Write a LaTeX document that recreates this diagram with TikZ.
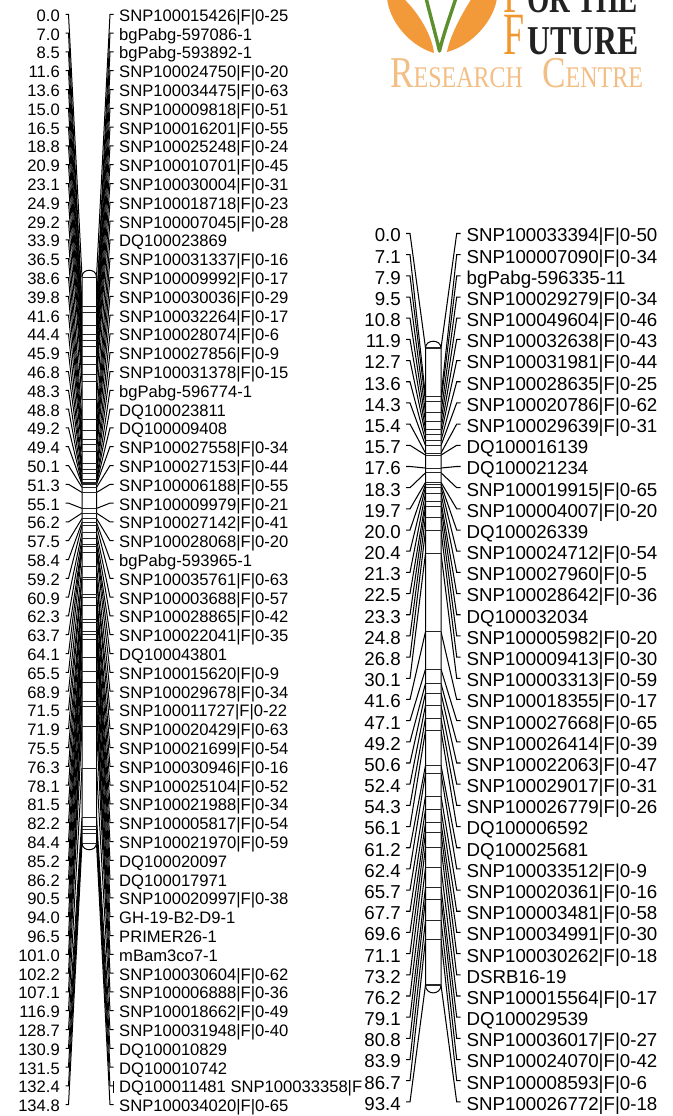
\documentclass[tikz,border=0pt]{standalone}
\usepackage{fontspec}
\usepackage{graphicx}
\setmainfont{Liberation Sans}
\newfontfamily\logoserif{Liberation Serif}
\definecolor{leaforange}{HTML}{F29A3A}
\definecolor{leafgreen}{HTML}{5E8F2E}
\definecolor{logoF}{HTML}{F0982F}
\definecolor{logolight}{HTML}{F2BE84}
\definecolor{logodark}{HTML}{222222}
\tikzset{
  conn/.style={line width=1pt,black,line join=miter},
  connB/.style={line width=1.05pt,black,line join=miter},
  markline/.style={line width=0.9pt,black!85},
  markB/.style={line width=1.05pt,black!85},
  chrom/.style={line width=1pt,black,fill=white},
  posA/.style={anchor=base east,inner sep=0pt,font=\fontsize{16.6}{18}\selectfont},
  nameA/.style={anchor=base west,inner sep=0pt,font=\fontsize{16.6}{18}\selectfont},
  posB/.style={anchor=base east,inner sep=0pt,font=\fontsize{18.7}{20}\selectfont},
  nameB/.style={anchor=base west,inner sep=0pt,font=\fontsize{18.7}{20}\selectfont},
  logotext/.style={anchor=base west,inner sep=0pt},
}
\newcommand{\bigF}{\textcolor{logoF}{\scalebox{.63}[1]{\fontseries{m}\fontsize{60}{60}\selectfont F}}\hspace{3pt}}
\begin{document}
\begin{tikzpicture}[x=1pt,y=-1pt]
\useasboundingbox (0,0) rectangle (672,1116);
% logo
\begin{scope}
\clip (0,0) rectangle (672,1116);
\fill[leaforange] (387,-2) .. controls (389,20) and (408,45) .. (434,53) .. controls (432,35) and (418,12) .. (403,-2) -- cycle;
\fill[leaforange] (497,-2) .. controls (494,20) and (473,45) .. (447,52) .. controls (450,35) and (463,12) .. (472,-2) -- cycle;
\draw[leafgreen,line width=3.4pt,line join=round] (426,-2) .. controls (431,18) and (436,36) .. (439.5,51) .. controls (443,36) and (450,16) .. (456,-2);
\node[logotext,text=logodark] (forthe) at (503,13) {\logoserif\bigF\bfseries\fontsize{41}{41}\selectfont\scalebox{.7}[1]{OR THE}};
\node[logotext,text=logodark] (future) at (503,55) {\logoserif\bigF\bfseries\fontsize{41}{41}\selectfont\scalebox{.775}[1]{UTURE}};
\node[logotext,text=logolight] (research) at (390,87) {\logoserif\scalebox{.8}[1]{\fontsize{44}{44}\selectfont R\fontsize{30}{30}\selectfont ESEARCH\hspace{24pt}\fontsize{44}{44}\selectfont C\fontsize{30}{30}\selectfont ENTRE}};
\end{scope}
% left map: connectors first
\foreach \p/\t [count=\i] in {
0.0/SNP100015426|F|0-25,7.0/bgPabg-597086-1,8.5/bgPabg-593892-1,11.6/SNP100024750|F|0-20,13.6/SNP100034475|F|0-63,15.0/SNP100009818|F|0-51,16.5/SNP100016201|F|0-55,18.8/SNP100025248|F|0-24,20.9/SNP100010701|F|0-45,23.1/SNP100030004|F|0-31,24.9/SNP100018718|F|0-23,29.2/SNP100007045|F|0-28,33.9/DQ100023869,36.5/SNP100031337|F|0-16,38.6/SNP100009992|F|0-17,39.8/SNP100030036|F|0-29,41.6/SNP100032264|F|0-17,44.4/SNP100028074|F|0-6,45.9/SNP100027856|F|0-9,46.8/SNP100031378|F|0-15,48.3/bgPabg-596774-1,48.8/DQ100023811,49.2/DQ100009408,49.4/SNP100027558|F|0-34,50.1/SNP100027153|F|0-44,51.3/SNP100006188|F|0-55,55.1/SNP100009979|F|0-21,56.2/SNP100027142|F|0-41,57.5/SNP100028068|F|0-20,58.4/bgPabg-593965-1,59.2/SNP100035761|F|0-63,60.9/SNP100003688|F|0-57,62.3/SNP100028865|F|0-42,63.7/SNP100022041|F|0-35,64.1/DQ100043801,65.5/SNP100015620|F|0-9,68.9/SNP100029678|F|0-34,71.5/SNP100011727|F|0-22,71.9/SNP100020429|F|0-63,75.5/SNP100021699|F|0-54,76.3/SNP100030946|F|0-16,78.1/SNP100025104|F|0-52,81.5/SNP100021988|F|0-34,82.2/SNP100005817|F|0-54,84.4/SNP100021970|F|0-59,85.2/DQ100020097,86.2/DQ100017971,90.5/SNP100020997|F|0-38,94.0/GH-19-B2-D9-1,96.5/PRIMER26-1,101.0/mBam3co7-1,102.2/SNP100030604|F|0-62,107.1/SNP100006888|F|0-36,116.9/SNP100018662|F|0-49,128.7/SNP100031948|F|0-40,130.9/DQ100010829,131.5/DQ100010742,132.4/DQ100011481 SNP100033358|F,134.8/SNP100034020|F|0-65}{
  \pgfmathsetmacro{\ym}{277+\p*4.2}
  \pgfmathsetmacro{\yl}{14.3+(\i-1)*18.8}
  \coordinate (Aml\i) at (82,\ym);
  \coordinate (Amr\i) at (96.5,\ym);
  \coordinate (Asl\i) at (68.5,\yl);
  \coordinate (Atl\i) at (65.5,\yl);
  \coordinate (Asr\i) at (110,\yl);
  \coordinate (Atr\i) at (113.5,\yl);
  \pgfmathsetmacro{\yb}{\yl+7}
  \node[posA] (Ap\i) at (60,\yb) {\p};
  \node[nameA] (An\i) at (119,\yb) {\t};
  \draw[conn] (Atl\i) -- (Asl\i) -- (Aml\i);
  \draw[conn] (Atr\i) -- (Asr\i) -- (Amr\i);
}
\coordinate (Atick1) at (113.5,1081);
\coordinate (Atick2) at (113.5,1093);
\draw[conn] (Atick1) -- (Atick2);
% left chromosome
\draw[chrom] (82,843) -- (82,277) .. controls (82,268) and (96.5,268) .. (96.5,277) -- (96.5,843) .. controls (96.5,852) and (82,852) .. (82,843) -- cycle;
\foreach \p [count=\i] in {0.0,7.0,8.5,11.6,13.6,15.0,16.5,18.8,20.9,23.1,24.9,29.2,33.9,36.5,38.6,39.8,41.6,44.4,45.9,46.8,48.3,48.8,49.2,49.4,50.1,51.3,55.1,56.2,57.5,58.4,59.2,60.9,62.3,63.7,64.1,65.5,68.9,71.5,71.9,75.5,76.3,78.1,81.5,82.2,84.4,85.2,86.2,90.5,94.0,96.5,101.0,102.2,107.1,116.9,128.7,130.9,131.5,132.4,134.8}{
  \draw[markline] (Aml\i) -- (Amr\i);
}
% right map
\foreach \p/\t [count=\i] in {
0.0/SNP100033394|F|0-50,7.1/SNP100007090|F|0-34,7.9/bgPabg-596335-11,9.5/SNP100029279|F|0-34,10.8/SNP100049604|F|0-46,11.9/SNP100032638|F|0-43,12.7/SNP100031981|F|0-44,13.6/SNP100028635|F|0-25,14.3/SNP100020786|F|0-62,15.4/SNP100029639|F|0-31,15.7/DQ100016139,17.6/DQ100021234,18.3/SNP100019915|F|0-65,19.7/SNP100004007|F|0-20,20.0/DQ100026339,20.4/SNP100024712|F|0-54,21.3/SNP100027960|F|0-5,22.5/SNP100028642|F|0-36,23.3/DQ100032034,24.8/SNP100005982|F|0-20,26.8/SNP100009413|F|0-30,30.1/SNP100003313|F|0-59,41.6/SNP100018355|F|0-17,47.1/SNP100027668|F|0-65,49.2/SNP100026414|F|0-39,50.6/SNP100022063|F|0-47,52.4/SNP100029017|F|0-31,54.3/SNP100026779|F|0-26,56.1/DQ100006592,61.2/DQ100025681,62.4/SNP100033512|F|0-9,65.7/SNP100020361|F|0-16,67.7/SNP100003481|F|0-58,69.6/SNP100034991|F|0-30,71.1/SNP100030262|F|0-18,73.2/DSRB16-19,76.2/SNP100015564|F|0-17,79.1/DQ100029539,80.8/SNP100036017|F|0-27,83.9/SNP100024070|F|0-42,86.7/SNP100008593|F|0-6,93.4/SNP100026772|F|0-18}{
  \pgfmathsetmacro{\ym}{348+\p*6.82}
  \pgfmathsetmacro{\yl}{233.5+(\i-1)*21.18}
  \coordinate (Bml\i) at (425.5,\ym);
  \coordinate (Bmr\i) at (441,\ym);
  \coordinate (Bsl\i) at (410,\yl);
  \coordinate (Btl\i) at (406,\yl);
  \coordinate (Bsr\i) at (456.7,\yl);
  \coordinate (Btr\i) at (460.5,\yl);
  \pgfmathsetmacro{\yb}{\yl+8.4}
  \node[posB] (Bp\i) at (401,\yb) {\p};
  \node[nameB] (Bn\i) at (466.5,\yb) {\t};
  \draw[connB] (Btl\i) -- (Bsl\i) -- (Bml\i);
  \draw[connB] (Btr\i) -- (Bsr\i) -- (Bmr\i);
}
\draw[chrom] (425.5,985) -- (425.5,348) .. controls (425.5,339) and (441,339) .. (441,348) -- (441,985) .. controls (441,995.5) and (425.5,995.5) .. (425.5,985) -- cycle;
\foreach \p [count=\i] in {0.0,7.1,7.9,9.5,10.8,11.9,12.7,13.6,14.3,15.4,15.7,17.6,18.3,19.7,20.0,20.4,21.3,22.5,23.3,24.8,26.8,30.1,41.6,47.1,49.2,50.6,52.4,54.3,56.1,61.2,62.4,65.7,67.7,69.6,71.1,73.2,76.2,79.1,80.8,83.9,86.7,93.4}{
  \draw[markB] (Bml\i) -- (Bmr\i);
}
\end{tikzpicture}
\end{document}
